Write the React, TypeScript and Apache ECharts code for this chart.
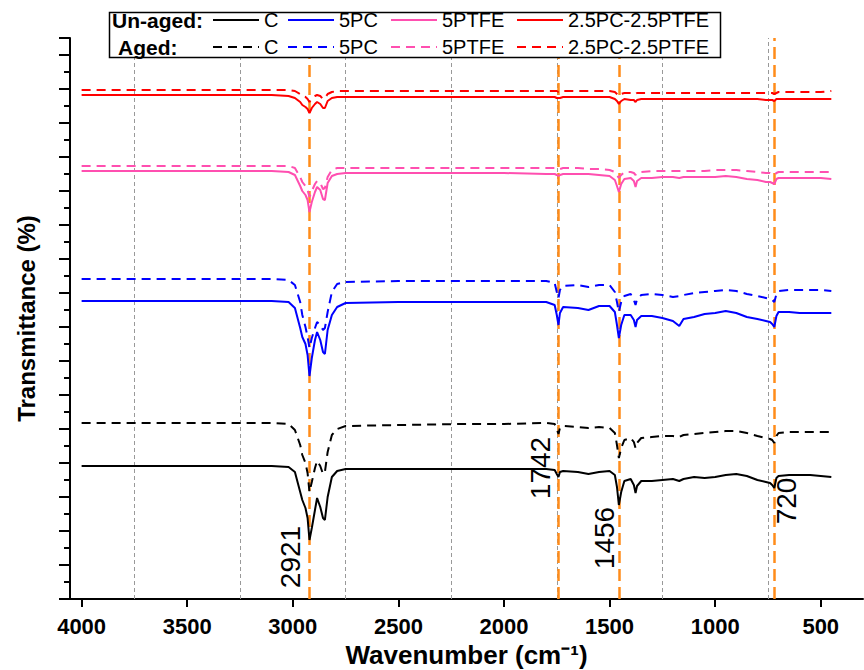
import React, { useEffect, useRef } from "react";
import * as echarts from "echarts";

// Wavenumber grid (cm^-1) at which the spectra were read
const wavenumbers = [
  4000, 3500, 3100, 3020, 2990, 2965, 2955, 2940, 2930, 2921, 2910, 2895, 2885, 2870, 2857,
  2848, 2835, 2815, 2790, 2750, 2500, 2200, 2000, 1800, 1760, 1750, 1742, 1735, 1720, 1650,
  1600, 1550, 1500, 1475, 1465, 1456, 1445, 1430, 1400, 1385, 1377, 1370, 1350, 1300, 1250,
  1200, 1170, 1150, 1100, 1050, 1000, 950, 900, 850, 800, 760, 740, 730, 720, 710,
  700, 650, 600, 550, 500, 450,
];

// Transmittance (offset, arbitrary units) for each sample
const unagedC = [
  133, 133, 133, 132, 127, 107, 99, 91, 81, 59, 71, 89, 101, 92, 81,
  79, 102, 122, 128, 130, 130, 130, 130, 130, 129, 125, 122, 127, 128, 127,
  125, 127, 128, 124, 112, 94, 107, 118, 120, 114, 106, 113, 118, 118, 119,
  120, 118, 120, 122, 121, 122, 124, 125, 123, 119, 117, 116, 114, 111, 121,
  123, 124, 124, 124, 123, 122,
];
const agedC = [
  176, 176, 176, 175, 169, 154, 144, 136, 126, 107, 117, 131, 138, 133, 125,
  127, 147, 164, 170, 173, 174, 175, 175, 176, 175, 170, 165, 171, 173, 172,
  171, 172, 171, 166, 154, 141, 151, 159, 161, 157, 151, 156, 161, 162, 163,
  163, 162, 164, 165, 166, 167, 168, 168, 166, 163, 161, 160, 159, 156, 163,
  166, 167, 167, 167, 167, 167,
];
const unaged5PC = [
  298, 298, 298, 297, 291, 271, 262, 255, 244, 223, 241, 259, 267, 259, 247,
  245, 269, 284, 292, 296, 297, 297, 297, 297, 294, 284, 274, 286, 292, 291,
  289, 293, 293, 287, 274, 261, 274, 284, 284, 279, 272, 279, 283, 283, 281,
  278, 273, 280, 282, 285, 286, 288, 286, 282, 280, 278, 277, 275, 272, 283,
  287, 287, 286, 286, 286, 286,
];
const aged5PC = [
  320, 320, 320, 319, 314, 297, 284, 272, 262, 251, 261, 271, 277, 274, 269,
  271, 287, 307, 315, 317, 318, 318, 318, 318, 316, 307, 301, 309, 313, 314,
  312, 314, 314, 307, 297, 287, 297, 303, 305, 299, 294, 300, 304, 305, 304,
  302, 303, 304, 306, 307, 308, 309, 308, 305, 303, 301, 300, 299, 297, 305,
  308, 309, 309, 309, 309, 308,
];
const unaged5PTFE = [
  428, 428, 428, 427, 424, 413, 408, 404, 399, 387, 397, 407, 412, 409, 400,
  399, 416, 423, 425, 426, 426, 426, 426, 425, 425, 424, 423, 424, 425, 425,
  425, 424, 423, 419, 413, 407, 415, 420, 421, 418, 412, 418, 421, 421, 422,
  422, 421, 422, 422, 422, 422, 423, 422, 420, 419, 417, 417, 416, 415, 420,
  421, 421, 421, 421, 421, 420,
];
const aged5PTFE = [
  433, 433, 433, 433, 431, 422, 417, 413, 409, 402, 408, 415, 418, 416, 410,
  411, 422, 429, 431, 431, 431, 431, 431, 431, 431, 430, 430, 430, 431, 431,
  430, 430, 429, 427, 424, 421, 424, 427, 427, 426, 424, 426, 427, 428, 428,
  428, 428, 428, 428, 428, 429, 429, 429, 428, 427, 426, 426, 425, 424, 426,
  427, 427, 427, 427, 427, 427,
];
const unagedMix = [
  504, 504, 504, 503, 501, 497, 494, 492, 490, 486, 491, 495, 497, 495, 491,
  491, 498, 501, 502, 502, 502, 502, 502, 502, 502, 501, 501, 501, 502, 502,
  502, 502, 502, 500, 498, 495, 498, 500, 499, 499, 497, 499, 500, 500, 500,
  500, 500, 500, 500, 500, 500, 500, 500, 500, 500, 499, 499, 499, 498, 500,
  500, 500, 500, 500, 500, 500,
];
const agedMix = [
  509, 509, 509, 509, 508, 505, 503, 502, 500, 497, 501, 503, 504, 503, 500,
  501, 505, 507, 508, 508, 508, 508, 508, 508, 508, 508, 507, 508, 508, 508,
  508, 508, 508, 507, 505, 503, 505, 506, 506, 506, 505, 506, 506, 506, 506,
  506, 506, 506, 506, 506, 506, 506, 506, 506, 506, 506, 506, 506, 505, 506,
  507, 507, 507, 507, 507, 508,
];

const sampleNames = ["C", "5PC", "5PTFE", "2.5PC-2.5PTFE"];
const sampleColors = ["#000000", "#0000FF", "#FF4FB0", "#FF0000"];
const unagedSeries = [unagedC, unaged5PC, unaged5PTFE, unagedMix];
const agedSeries = [agedC, aged5PC, aged5PTFE, agedMix];

const xTickValues = [4000, 3500, 3000, 2500, 2000, 1500, 1000, 500];
const gridLineValues = [3750, 3250, 2750, 2250, 1750, 1250, 750];
const peakValues = [2921, 1742, 1456, 720];
const peakLabelX = [3013, 1825, 1526, 664];
const peakLabelY = [42, 131, 61, 98];

const FONT = "Liberation Sans";

export default function App() {
  const ref = useRef<HTMLDivElement>(null);

  useEffect(() => {
    if (!ref.current) return;
    const chart = echarts.init(ref.current, null, { renderer: "svg" });
    const pairs = (vals: number[]) => wavenumbers.map((w, i) => [w, vals[i]]);

    const series: any[] = [];
    sampleNames.forEach((s, i) => {
      series.push({
        name: "Aged " + s,
        type: "line",
        data: pairs(agedSeries[i]),
        symbol: "none",
        z: 3,
        lineStyle: { color: sampleColors[i], width: 2, type: [9, 6] },
        itemStyle: { color: sampleColors[i] },
      });
    });
    sampleNames.forEach((s, i) => {
      series.push({
        name: "Un-aged " + s,
        type: "line",
        data: pairs(unagedSeries[i]),
        symbol: "none",
        z: 4,
        lineStyle: { color: sampleColors[i], width: 2, type: "solid" },
        itemStyle: { color: sampleColors[i] },
      });
    });
    series.push({
      name: "peaks",
      type: "scatter",
      symbol: "circle",
      symbolSize: 1,
      silent: true,
      z: 5,
      itemStyle: { color: "rgba(255,255,255,0)" },
      data: peakValues.map((p, i) => ({
        value: [peakLabelX[i], peakLabelY[i]],
        label: { formatter: String(p) },
      })),
      label: {
        show: true,
        position: "inside",
        rotate: 90,
        align: "center",
        verticalAlign: "middle",
        fontSize: 28,
        fontFamily: FONT,
        color: "#000000",
        textBorderWidth: 0,
        opacity: 1,
      },
      markLine: {
        silent: true,
        symbol: ["none", "none"],
        label: { show: false },
        z: 2,
        data: [
          ...gridLineValues.map((v) => ({
            xAxis: v,
            lineStyle: { color: "#999999", type: [4, 3], width: 1 },
          })),
          ...peakValues.map((v) => ({
            xAxis: v,
            lineStyle: { color: "#FF8C1A", type: [12, 6], width: 2.5 },
          })),
        ],
      },
    });

    const legendLeft = [212, 287, 390, 516];
    const legends: any[] = [];
    sampleNames.forEach((s, i) => {
      [
        ["Un-aged " + s, 10],
        ["Aged " + s, 37],
      ].forEach(([name, top]) => {
        legends.push({
          data: [name],
          left: legendLeft[i],
          top: top,
          padding: 0,
          itemWidth: 46,
          itemHeight: 14,
          selectedMode: false,
          z: 60,
          itemStyle: { opacity: 0 },
          formatter: (n: string) => n.replace(/^(Un-aged|Aged) /, ""),
          textStyle: { fontSize: 20, fontFamily: FONT, color: "#000" },
        });
      });
    });

    chart.setOption({
      animation: false,
      backgroundColor: "#ffffff",
      textStyle: { fontFamily: FONT },
      grid: {
        left: 70,
        right: 1,
        top: 38,
        bottom: 71,
        containLabel: false,
        outerBoundsMode: "none",
      },
      legend: legends,
      graphic: [
        {
          type: "rect",
          z: 50,
          shape: { x: 109.5, y: 12.5, width: 611, height: 45 },
          style: { fill: "#ffffff", stroke: "#000000", lineWidth: 1.5 },
        },
        {
          type: "text",
          z: 51,
          style: {
            x: 112,
            y: 20,
            text: "Un-aged:",
            fill: "#000",
            fontSize: 21,
            fontWeight: "bold",
            fontFamily: FONT,
            verticalAlign: "middle",
            align: "left",
          },
        },
        {
          type: "text",
          z: 51,
          style: {
            x: 118,
            y: 47,
            text: "Aged:",
            fill: "#000",
            fontSize: 21,
            fontWeight: "bold",
            fontFamily: FONT,
            verticalAlign: "middle",
            align: "left",
          },
        },
      ],
      xAxis: {
        type: "value",
        inverse: true,
        min: 300,
        max: 4055,
        axisLine: { onZero: false, lineStyle: { color: "#000", width: 2 } },
        axisTick: {
          show: true,
          length: 8,
          customValues: xTickValues,
          lineStyle: { color: "#000", width: 2 },
        },
        axisLabel: {
          customValues: xTickValues,
          formatter: (v: number) => String(v),
          fontSize: 22,
          fontWeight: "bold",
          fontFamily: FONT,
          color: "#000",
          margin: 16,
        },
        splitLine: { show: false },
        name: "Wavenumber (cm\u207B\u00B9)",
        nameLocation: "middle",
        nameGap: 42,
        nameTextStyle: { fontSize: 26, fontWeight: "bold", fontFamily: FONT, color: "#000" },
      },
      yAxis: [
        {
          type: "value",
          min: 0,
          max: 561,
          interval: 17,
          position: "left",
          axisLine: { show: true, onZero: false, lineStyle: { color: "#000", width: 2 } },
          axisTick: { show: true, length: 6, lineStyle: { color: "#000", width: 2 } },
          axisLabel: { show: false },
          splitLine: { show: false },
          name: "Transmittance (%)",
          nameLocation: "middle",
          nameGap: 32,
          nameTextStyle: { fontSize: 24, fontWeight: "bold", fontFamily: FONT, color: "#000" },
        },
        {
          type: "value",
          min: 0,
          max: 561,
          interval: 34,
          position: "left",
          offset: 0,
          axisLine: { show: false, onZero: false },
          axisTick: { show: true, length: 11, lineStyle: { color: "#000", width: 2 } },
          axisLabel: { show: false },
          splitLine: { show: false },
        },
      ],
      series,
    });
    return () => chart.dispose();
  }, []);

  return (
    <div
      ref={ref}
      style={{ position: "fixed", left: 0, top: 0, width: 864, height: 670, background: "#fff" }}
    />
  );
}
